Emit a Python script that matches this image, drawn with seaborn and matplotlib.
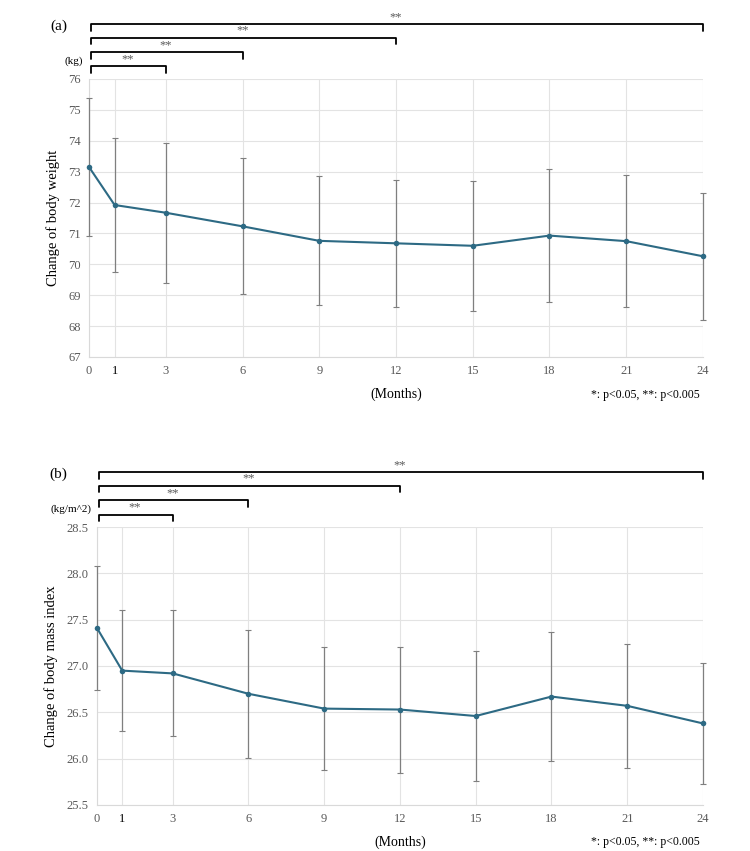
import numpy as np
import pandas as pd
import matplotlib
matplotlib.use('Agg')
import matplotlib.pyplot as plt
import seaborn as sns

# data
months = [0, 1, 3, 6, 9, 12, 15, 18, 21, 24]
weight_mean = [73.15, 71.92, 71.67, 71.23, 70.76, 70.68, 70.60, 70.93, 70.75, 70.26]
weight_sd = [2.22, 2.17, 2.27, 2.20, 2.09, 2.05, 2.10, 2.14, 2.14, 2.05]
bmi_mean = [27.41, 26.95, 26.92, 26.70, 26.54, 26.53, 26.46, 26.67, 26.57, 26.38]
bmi_sd = [0.67, 0.65, 0.68, 0.69, 0.66, 0.68, 0.70, 0.70, 0.67, 0.65]
comparisons = [(0, 24, '**'), (0, 12, '**'), (0, 6, '**'), (0, 3, '**')]

sns.set_theme(style='whitegrid')
plt.rcParams['font.family'] = ['Liberation Serif', 'DejaVu Serif']

line_col = '#2d6a84'
grey = '#7f7f7f'
tick_col = '#595959'

fig = plt.figure(figsize=(7.5, 8.51), dpi=100)
ax_a = fig.add_axes([0.1187, 0.5805, 0.8186, 0.3267])
ax_b = fig.add_axes([0.1293, 0.0541, 0.8080, 0.3266])

panels = [
    (ax_a, weight_mean, weight_sd, (67, 76), np.arange(67, 77, 1), '{:.0f}',
     'Change of body weight', '(kg)', '(a)'),
    (ax_b, bmi_mean, bmi_sd, (25.5, 28.5), np.arange(25.5, 28.51, 0.5), '{:.1f}',
     'Change of body mass index', '(kg/m^2)', '(b)'),
]

bracket_y = [1.198, 1.149, 1.096, 1.045]

for ax, mean, sd, ylim, yticks, fmt, ylabel, unit, tag in panels:
    d = pd.DataFrame({'month': months, 'mean': mean, 'sd': sd})
    eb = ax.errorbar(d['month'], d['mean'], yerr=d['sd'], fmt='none', ecolor=grey,
                     elinewidth=0.9, capsize=2, capthick=0.8, zorder=3)
    for art in eb.lines[1] + eb.lines[2]:
        art.set_clip_on(False)
    sns.lineplot(data=d, x='month', y='mean', ax=ax, color=line_col, lw=1.5,
                 marker='o', markersize=4, markeredgewidth=0, zorder=4,
                 clip_on=False)
    ax.set_xlim(0, 24)
    ax.set_ylim(*ylim)
    ax.set_xticks(months)
    ax.set_yticks(yticks)
    ax.set_yticklabels([fmt.format(v) for v in yticks])
    ax.tick_params(length=0, labelsize=9, labelcolor=tick_col, pad=6)
    ax.get_xticklabels()[1].set_color('black')
    ax.grid(True, color='#e3e3e3', lw=0.8)
    for s in ['top', 'right']:
        ax.spines[s].set_visible(False)
    for s in ['left', 'bottom']:
        ax.spines[s].set_color('#d9d9d9')
        ax.spines[s].set_linewidth(0.8)
        ax.spines[s].set_zorder(1)
    ax.set_xlabel('')
    ax.set_ylabel(ylabel, fontsize=10.5, color='black', labelpad=6)
    ax.text(-0.009, 1.063, unit, transform=ax.transAxes, ha='right', va='center',
            fontsize=8, color='black')
    ax.text(0.0893, ax.get_position().y1 + 0.0625, tag, transform=fig.transFigure,
            ha='right', va='center', fontsize=11, color='black')
    ax.text(0.5, -0.135, '(Months)', transform=ax.transAxes, ha='center',
            va='center', fontsize=10, color='black')
    ax.text(0.995, -0.135, '*: p<0.05, **: p<0.005', transform=ax.transAxes,
            ha='right', va='center', fontsize=8.5, color='black')

    trans = ax.get_xaxis_transform()
    for (x0, x1, lab), by in zip(comparisons, bracket_y):
        ax.plot([x0 + 0.08, x0 + 0.08, x1, x1], [by - 0.024, by, by, by - 0.024],
                color='black', lw=1.3, transform=trans, clip_on=False)
        ax.text((x0 + x1) / 2, by + 0.003, lab, transform=trans, ha='center',
                va='bottom', fontsize=9, color=tick_col)

fig.savefig('out.png', dpi=100)
